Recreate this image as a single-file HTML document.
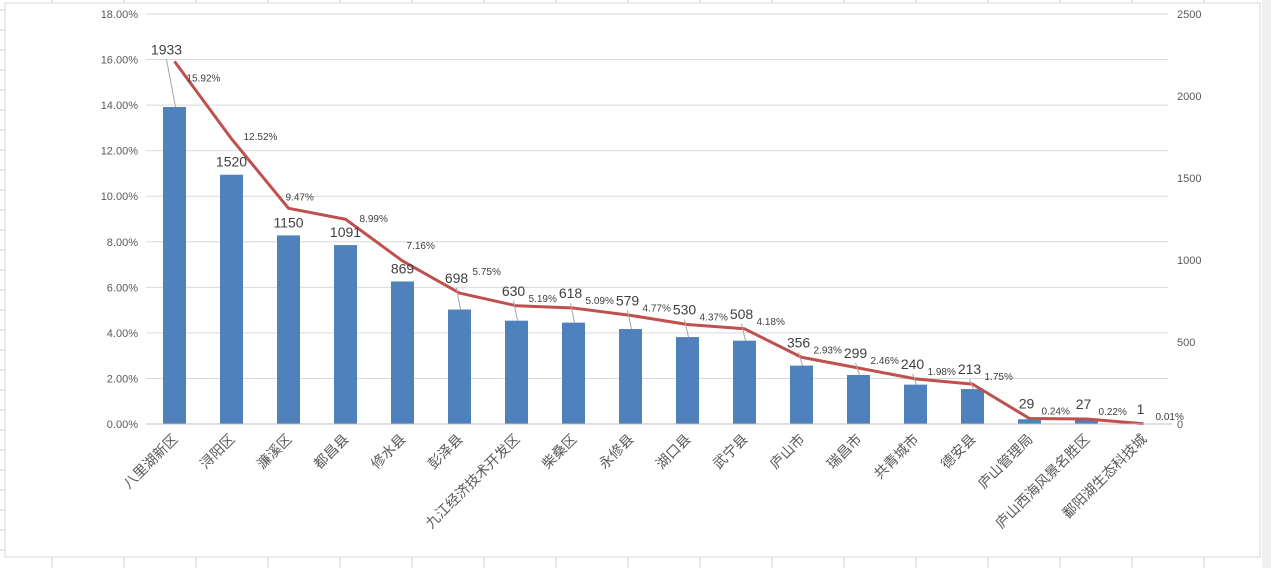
<!DOCTYPE html>
<html><head><meta charset="utf-8">
<style>
body{margin:0;width:1271px;height:568px;overflow:hidden;background:#fff;font-family:"Liberation Sans","Noto Sans CJK SC",sans-serif;}
svg{display:block}
</style></head>
<body>
<svg id="chart" width="1271" height="568" xmlns="http://www.w3.org/2000/svg">
  <g id="sheet"></g>
  <rect x="5" y="3" width="1255" height="554" fill="#fff" stroke="#d9d9d9"/>
  <rect x="1262" y="0" width="9" height="568" fill="#f0f0f0"/>
  <g id="grid"></g>
  <g id="bars"></g>
  <g id="line"></g>
  <g id="labels"></g>
  <g id="axes"></g>
</svg>
<script>
const categories=["八里湖新区","浔阳区","濂溪区","都昌县","修水县","彭泽县","九江经济技术开发区","柴桑区","永修县","湖口县","武宁县","庐山市","瑞昌市","共青城市","德安县","庐山管理局","庐山西海风景名胜区","鄱阳湖生态科技城"];
const counts=[1933,1520,1150,1091,869,698,630,618,579,530,508,356,299,240,213,29,27,1];
const percents=[15.92,12.52,9.47,8.99,7.16,5.75,5.19,5.09,4.77,4.37,4.18,2.93,2.46,1.98,1.75,0.24,0.22,0.01];
const leftTicks=[0,2,4,6,8,10,12,14,16,18];
const rightTicks=[0,500,1000,1500,2000,2500];

const NS="http://www.w3.org/2000/svg";
const X0=146,X1=1172,Y0=424,Y1=14;
const band=(X1-X0)/categories.length;
const xC=i=>X0+band*(i+0.5);
const yL=p=>Y0-(p/18)*(Y0-Y1);
const yR=v=>Y0-(v/2500)*(Y0-Y1);
function mk(tag,attrs,parent){const e=document.createElementNS(NS,tag);for(const k in attrs)e.setAttribute(k,attrs[k]);parent.appendChild(e);return e;}

const sheet=document.getElementById('sheet');
for(let x=52;x<1271;x+=72){const l=mk('line',{x1:x,y1:0,x2:x,y2:568,stroke:'#d4d4d4'},sheet);

}
for(let y=10;y<568;y+=20){const l=mk('line',{x1:0,y1:y,x2:5,y2:y,stroke:'#d4d4d4'},sheet);

}

const grid=document.getElementById('grid'),axes=document.getElementById('axes');
leftTicks.forEach(t=>{
  const y=yL(t);
  const g=mk('line',{x1:X0,y1:y,x2:X1-4,y2:y,stroke:'#d9d9d9'},grid);
  
  
  const tx=mk('text',{x:138,y:y+4,'text-anchor':'end','font-size':11,fill:'#595959'},axes);
  tx.textContent=t.toFixed(2)+'%';
  
  
});
rightTicks.forEach(t=>{
  const tx=mk('text',{x:1177,y:yR(t)+4,'font-size':11,fill:'#595959'},axes);
  tx.textContent=t;
  
  
});
const base=mk('line',{x1:X0,y1:Y0,x2:X1,y2:Y0,stroke:'#bfbfbf'},axes);



const bars=document.getElementById('bars'),lineG=document.getElementById('line'),labels=document.getElementById('labels');
counts.forEach((v,i)=>{
  const y=yR(v);
  const r=mk('rect',{x:xC(i)-11.5,y:y,width:23,height:Y0-y,fill:'#4f81bd'},bars);
  
  
  const lyLine=yL(percents[i]);
  let ly=y-8, lx=xC(i), leader=false;
  if(i===0){ly=lyLine-7;lx=xC(i)-8;leader=true;}
  else if(y-lyLine<20){ly=lyLine-10;lx=xC(i)-3;leader=true;}
  if(leader && y-ly>14){
    const ld=mk('line',{x1:lx,y1:ly+5,x2:xC(i)+1,y2:y,stroke:'#a6a6a6'},labels);
    
    }
  const t=mk('text',{x:lx,y:ly,'text-anchor':'middle','font-size':14,fill:'#404040'},labels);
  t.textContent=v;
  
  
  const c=mk('text',{x:xC(i)+4,y:440,'text-anchor':'end','font-size':14,fill:'#595959',transform:`rotate(-45 ${xC(i)+4} 440)`},axes);
  c.textContent=categories[i];
  
  
});
const pts=percents.map((p,i)=>xC(i)+','+yL(p)).join(' ');
const pl=mk('polyline',{points:pts,fill:'none',stroke:'#c0504d','stroke-width':3,'stroke-linejoin':'round'},lineG);


percents.forEach((p,i)=>{
  let dx=12, dy=-4;
  if(i===0){dx=12;dy=20;}
  else if(i===1){dx=12;dy=1;}
  else if(i===2){dx=-3;dy=-8;}
  else if(i===3){dx=14;dy=3;}
  else if(i===4){dx=4;dy=-12;}
  else if(i===5){dx=13;dy=-18;}
  const t=mk('text',{x:xC(i)+dx,y:yL(p)+dy,'font-size':10,fill:'#404040'},labels);
  t.textContent=p.toFixed(2)+'%';
  
  
});
</script>
</body></html>
